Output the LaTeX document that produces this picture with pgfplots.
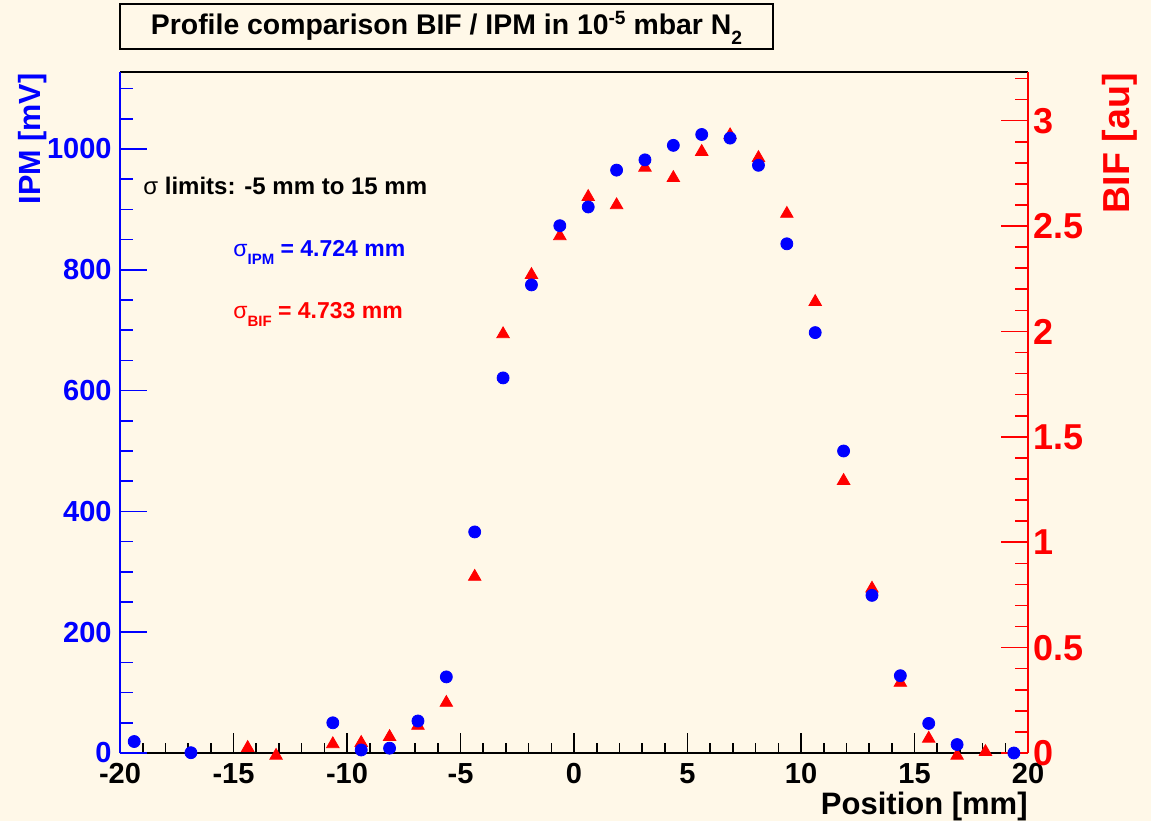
\documentclass[border=0pt]{standalone}
\usepackage{fontspec}
\setmainfont{Liberation Sans}
\usepackage{pgfplots}
\usepackage{pgfplotstable}
\pgfplotsset{compat=1.18}

\definecolor{bgcream}{RGB}{255,248,232}
\definecolor{ipmblue}{RGB}{0,0,255}
\definecolor{bifred}{RGB}{255,0,0}

% bold text at a size given in bp
\newcommand{\fs}[1]{\fontsize{#1bp}{#1bp}\selectfont\bfseries}

% IPM profile, mV
\pgfplotstableread{
pos ipm
-19.375 19
-16.875 0.5
-10.625 50
-9.375 5
-8.125 8
-6.875 53
-5.625 126
-4.375 366
-3.125 621
-1.875 775
-0.625 873
0.625 904
1.875 965
3.125 982
4.375 1006
5.625 1024
6.875 1018
8.125 973
9.375 843
10.625 696
11.875 500
13.125 261
14.375 128
15.625 49
16.875 14
19.375 0
}\ipmdata

% BIF profile, au
\pgfplotstableread{
pos bif
-14.375 0.033
-13.125 -0.004
-10.625 0.051
-9.375 0.057
-8.125 0.085
-6.875 0.138
-5.625 0.247
-4.375 0.845
-3.125 1.996
-1.875 2.277
-0.625 2.461
0.625 2.647
1.875 2.608
3.125 2.786
4.375 2.737
5.625 2.861
6.875 2.940
8.125 2.832
9.375 2.567
10.625 2.149
11.875 1.300
13.125 0.789
14.375 0.342
15.625 0.077
16.875 -0.004
18.125 0.014
}\bifdata

\begin{document}
\begin{tikzpicture}
% picture laid out in pixels of the reference: 1 px = 0.5bp, origin bottom left
\begin{scope}[x=0.5bp, y=0.5bp]
\fill[bgcream] (0,0) rectangle (1151,821);
\end{scope}

\pgfplotsset{rootframe/.style={at={(60bp,34bp)}, anchor=south west, scale only axis,
  width=454bp, height=340.5bp, xmin=-20, xmax=20, clip=false,
  tick align=inside, /pgf/number format/assume math mode=true,
  axis line style={line width=1bp}, tick style={line width=0.8bp}}}

%% x axis + top frame line
\begin{axis}[rootframe, ymin=0, ymax=1,
  axis x line*=bottom, axis y line=none,
  xtick={-20,-15,-10,-5,0,5,10,15,20},
  xticklabels={-20,-15,-10,-5,0,5,10,15,20},
  minor xtick={-19,-18,-17,-16,-14,-13,-12,-11,-9,-8,-7,-6,-4,-3,-2,-1,1,2,3,4,6,7,8,9,11,12,13,14,16,17,18,19},
  major tick length=10bp, minor tick length=5bp,
  axis line style={black}, tick style={black},
  xticklabel style={font=\fs{14.5}, text=black, inner sep=0pt, anchor=north},
  xticklabel shift=5bp]
\draw[black, line width=1bp] (rel axis cs:0,1) -- (rel axis cs:1,1);
\end{axis}

%% BIF on the right axis
\begin{axis}[rootframe, ymin=0, ymax=3.231,
  axis y line*=right, axis x line=none,
  ytick={0,0.5,1,1.5,2,2.5,3},
  yticklabels={0,0.5,1,1.5,2,2.5,3},
  minor ytick={0.1,0.2,0.3,0.4,0.6,0.7,0.8,0.9,1.1,1.2,1.3,1.4,1.6,1.7,1.8,1.9,2.1,2.2,2.3,2.4,2.6,2.7,2.8,2.9,3.1,3.2},
  major tick length=13.5bp, minor tick length=6.5bp,
  axis line style={bifred}, tick style={bifred},
  yticklabel style={font=\fs{18}, text=bifred, inner sep=0pt, anchor=west},
  yticklabel shift=2.5bp]
\addplot[only marks, mark=triangle*, mark size=3.6bp, color=bifred,
  mark options={yshift=-0.9bp}] table[x=pos, y=bif] {\bifdata};
\end{axis}

%% IPM on the left axis
\begin{axis}[rootframe, ymin=0, ymax=1127.5,
  axis y line*=left, axis x line=none,
  ytick={0,200,400,600,800,1000},
  yticklabels={0,200,400,600,800,1000},
  minor ytick={50,100,150,250,300,350,450,500,550,650,700,750,850,900,950,1050,1100},
  major tick length=13.5bp, minor tick length=6.5bp,
  axis line style={ipmblue}, tick style={ipmblue},
  yticklabel style={font=\fs{14.5}, text=ipmblue, inner sep=0pt, anchor=east},
  yticklabel shift=4bp]
\addplot[only marks, mark=*, mark size=3bp, color=ipmblue] table[x=pos, y=ipm] {\ipmdata};
\end{axis}

\begin{scope}[x=0.5bp, y=0.5bp]
%% title box
\draw[black, line width=1bp, fill=bgcream] (120,817) rectangle (773,772);
\node[anchor=base, inner sep=0pt, font=\fs{14.2}] at (446.5,786)
  {Profile comparison BIF / IPM in 10\raisebox{5bp}{\fs{9.6}-5} mbar N\raisebox{-5bp}{\fs{9.6}2}};

%% axis titles
\node[rotate=90, anchor=base east, inner sep=0pt, font=\fs{15.3}, text=ipmblue] at (40,748) {IPM [mV]};
\node[rotate=90, anchor=base east, inner sep=0pt, font=\fs{18.8}, text=bifred] at (1129,748) {BIF [au]};
\node[anchor=base east, inner sep=0pt, font=\fs{15.5}] at (1028,7) {Position [mm]};

%% sigma annotations
\node[anchor=base west, inner sep=0pt, font=\fs{12}] at (143,626)
  {{\mdseries σ} limits: -5 mm to 15 mm};
\node[anchor=base west, inner sep=0pt, font=\fs{11.5}, text=ipmblue] at (233,564)
  {{\mdseries σ}\raisebox{-4bp}{\fs{7.5}IPM} = 4.724 mm};
\node[anchor=base west, inner sep=0pt, font=\fs{11.5}, text=bifred] at (233,502)
  {{\mdseries σ}\raisebox{-4bp}{\fs{7.5}BIF} = 4.733 mm};

\pgfresetboundingbox
\useasboundingbox (0,0) rectangle (1151,821);
\end{scope}
\end{tikzpicture}
\end{document}
